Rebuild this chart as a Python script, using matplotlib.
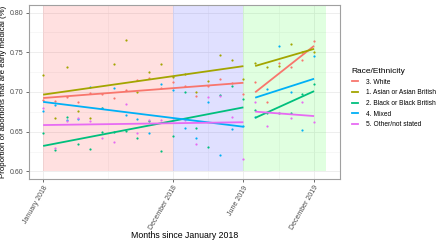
import numpy as np
import matplotlib
matplotlib.use("Agg")
import matplotlib.pyplot as plt
from matplotlib.lines import Line2D

plt.rcParams['font.family'] = ['Liberation Sans', 'DejaVu Sans']

# months since January 2018 (0 = Jan 2018)
months = np.arange(24)

white = [0.690, 0.689, 0.694, 0.688, 0.699, 0.697, 0.693, 0.702, 0.715, 0.718, 0.705, 0.712,
         0.708, 0.695, 0.707, 0.716, 0.711, 0.697, 0.713, 0.687, 0.737, 0.732, 0.740, 0.764]
asian = [0.722, 0.667, 0.732, 0.676, 0.667, 0.680, 0.735, 0.766, 0.700, 0.725, 0.735, 0.719,
         0.723, 0.700, 0.714, 0.746, 0.740, 0.716, 0.736, 0.732, 0.733, 0.760, 0.750, 0.750]
black = [0.648, 0.627, 0.669, 0.635, 0.628, 0.650, 0.650, 0.651, 0.642, 0.663, 0.626, 0.645,
         0.700, 0.655, 0.631, 0.696, 0.708, 0.691, 0.677, 0.6735, 0.674, 0.674, 0.697, 0.710]
mixed = [0.6755, 0.684, 0.665, 0.666, 0.706, 0.680, 0.705, 0.671, 0.666, 0.648, 0.710, 0.703,
         0.655, 0.642, 0.687, 0.621, 0.653, 0.657, 0.669, 0.704, 0.758, 0.7006, 0.652, 0.745]
other = [0.680, 0.629, 0.664, 0.667, 0.663, 0.642, 0.637, 0.685, 0.648, 0.665, 0.665, 0.665,
         0.665, 0.635, 0.694, 0.695, 0.668, 0.616, 0.687, 0.657, 0.674, 0.667, 0.688, 0.662]

groups = ["3. White", "1. Asian or Asian British", "2. Black or Black British",
          "4. Mixed", "5. Other/not stated"]
series = [white, asian, black, mixed, other]
colors = ["#F8766D", "#A3A500", "#00BF7D", "#00B0F6", "#E76BF3"]

# periods for the fitted lines and shaded bands
seg_bounds = [(0, 17), (18, 23)]
bands = [(0, 11, "#FF0000"), (11, 17, "#0000FF"), (17, 24, "#00FF00")]
xtick_pos = [0, 11, 17, 23]
xtick_lab = ["January 2018", "December 2018", "June 2019", "December 2019"]

fig = plt.figure(figsize=(4.4, 2.41), dpi=100)
ax = fig.add_axes([29 / 440, 1 - 179 / 241, 311 / 440, 174 / 241])

ax.set_xlim(-1.2, 25.2)
ax.set_ylim(0.5905, 0.8095)

for lo, hi, c in bands:
    ax.fill_between([lo, hi], 0.6, 0.8095, color=c, alpha=0.12, lw=0, zorder=1)

for vals, c in zip(series, colors):
    vals = np.array(vals)
    ax.scatter(months, vals, s=2.5, color=c, lw=0, zorder=3)
    for a, b in seg_bounds:
        m = (months >= a) & (months <= b)
        k, q = np.polyfit(months[m], vals[m], 1)
        xx = np.array([a, b])
        ax.plot(xx, k * xx + q, color=c, lw=1.3, zorder=4, solid_capstyle='butt')

ax.set_yticks([0.60, 0.65, 0.70, 0.75, 0.80])
ax.set_yticklabels(["0.60", "0.65", "0.70", "0.75", "0.80"])
ax.set_yticks([0.625, 0.675, 0.725, 0.775], minor=True)
ax.set_xticks(xtick_pos)
ax.set_xticklabels(xtick_lab, rotation=60, ha='right', rotation_mode='anchor')
ax.set_xticks([5.5, 14, 20], minor=True)

ax.grid(True, which='major', color='#EBEBEB', lw=0.6, zorder=0)
ax.grid(True, which='minor', color='#F2F2F2', lw=0.4, zorder=0)
ax.set_axisbelow(True)
for s in ax.spines.values():
    s.set_color('#A0A0A0')
    s.set_linewidth(0.8)
ax.tick_params(which='major', length=2.5, width=0.6, color='#555555',
               labelsize=5, labelcolor='#4D4D4D', pad=1.5)
ax.tick_params(which='minor', length=0)

ax.set_xlabel("Months since January 2018", fontsize=6.3, labelpad=0)
ax.set_ylabel("Proportion of abortions that are early medical (%)", fontsize=5.7, labelpad=2)

handles = [Line2D([0], [0], color=c, lw=1.3) for c in colors]
leg = fig.legend(handles, groups, title="Race/Ethnicity", loc='center left',
                 bbox_to_anchor=(349 / 440, 1 - 98 / 241), frameon=False,
                 fontsize=4.8, title_fontsize=6, handlelength=0.9, handletextpad=1.2,
                 labelspacing=0.55, borderaxespad=0)
leg._legend_box.align = "left"

fig.savefig("out.png", dpi=100)
